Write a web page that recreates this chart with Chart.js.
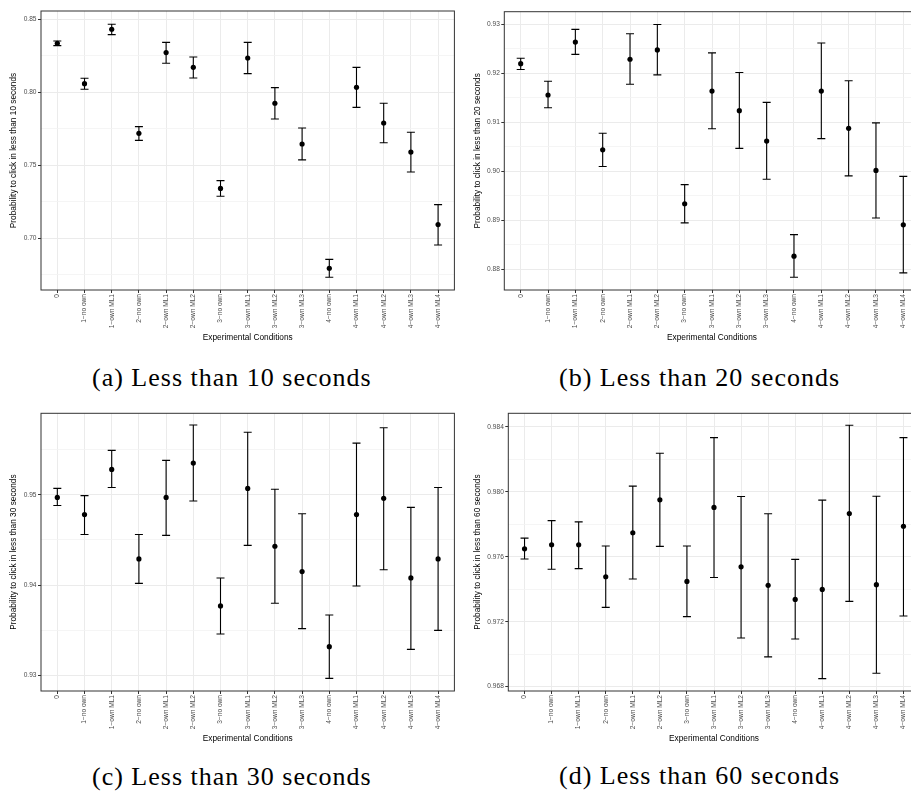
<!DOCTYPE html>
<html>
<head>
<meta charset="utf-8">
<script src="https://cdn.jsdelivr.net/npm/chart.js@4.4.1/dist/chart.umd.min.js"></script>
<style>
  html, body { margin: 0; padding: 0; background: #fff; overflow: hidden; width: 911px; height: 791px; }
  .panel { position: absolute; }
  .cap { position: absolute; font-family: "Liberation Serif", "DejaVu Serif", serif; font-size: 26px; line-height: 26px; letter-spacing: 1px; color: #000; white-space: nowrap; }
</style>
</head>
<body>
<div class="panel" style="left:0px;top:0px;width:457px;height:345px"><canvas id="chartA"></canvas></div>
<div class="panel" style="left:457px;top:0px;width:466px;height:345px"><canvas id="chartB"></canvas></div>
<div class="panel" style="left:0px;top:402px;width:457px;height:344px"><canvas id="chartC"></canvas></div>
<div class="panel" style="left:457px;top:402px;width:466px;height:344px"><canvas id="chartD"></canvas></div>
<div class="cap" style="left:92px;top:365px">(a) Less than 10 seconds</div>
<div class="cap" style="left:559px;top:365px">(b) Less than 20 seconds</div>
<div class="cap" style="left:92px;top:764px">(c) Less than 30 seconds</div>
<div class="cap" style="left:559px;top:763px">(d) Less than 60 seconds</div>
<script>
const categories = ['0', '1−no own', '1−own ML1', '2−no own', '2−own ML1', '2−own ML2', '3−no own',
  '3−own ML1', '3−own ML2', '3−own ML3', '4−no own', '4−own ML1', '4−own ML2', '4−own ML3', '4−own ML4'];

// (a) less than 10 seconds
const mean10 = [0.8336, 0.8059, 0.8432, 0.7719, 0.8272, 0.8171, 0.7342, 0.8235, 0.7925, 0.7646, 0.6795, 0.8034, 0.7790, 0.7591, 0.7094];
const low10  = [0.8320, 0.8021, 0.8395, 0.7671, 0.8199, 0.8098, 0.7288, 0.8128, 0.7817, 0.7537, 0.6733, 0.7897, 0.7655, 0.7454, 0.6954];
const high10 = [0.8352, 0.8096, 0.8466, 0.7765, 0.8342, 0.8242, 0.7395, 0.8342, 0.8032, 0.7756, 0.6856, 0.8171, 0.7925, 0.7726, 0.7231];
const ticks10 = ['0.70', '0.75', '0.80', '0.85'];

// (b) less than 20 seconds
const mean20 = [0.9220, 0.9156, 0.9264, 0.9044, 0.9229, 0.9248, 0.8934, 0.9164, 0.9124, 0.9062, 0.8827, 0.9164, 0.9088, 0.9002, 0.8891];
const low20  = [0.9208, 0.9130, 0.9239, 0.9010, 0.9178, 0.9197, 0.8895, 0.9087, 0.9047, 0.8984, 0.8784, 0.9067, 0.8991, 0.8905, 0.8793];
const high20 = [0.9231, 0.9184, 0.9290, 0.9078, 0.9281, 0.9300, 0.8973, 0.9242, 0.9202, 0.9141, 0.8871, 0.9262, 0.9185, 0.9099, 0.8990];
const ticks20 = ['0.88', '0.89', '0.90', '0.91', '0.92', '0.93'];

// (c) less than 30 seconds
const mean30 = [0.9497, 0.9478, 0.9528, 0.9429, 0.9497, 0.9535, 0.9377, 0.9507, 0.9443, 0.9415, 0.9332, 0.9478, 0.9496, 0.9408, 0.9429];
const low30  = [0.9488, 0.9456, 0.9508, 0.9402, 0.9455, 0.9493, 0.9346, 0.9444, 0.9380, 0.9352, 0.9297, 0.9399, 0.9417, 0.9329, 0.9350];
const high30 = [0.9507, 0.9499, 0.9549, 0.9456, 0.9538, 0.9577, 0.9408, 0.9569, 0.9506, 0.9479, 0.9367, 0.9557, 0.9574, 0.9486, 0.9508];
const ticks30 = ['0.93', '0.94', '0.95'];

// (d) less than 60 seconds
const mean60 = [0.97649, 0.97674, 0.97674, 0.97477, 0.97748, 0.97951, 0.97448, 0.97904, 0.97538, 0.97424, 0.97337, 0.97399, 0.97866, 0.97428, 0.97788];
const low60  = [0.97586, 0.97523, 0.97527, 0.97288, 0.97463, 0.97664, 0.97231, 0.97472, 0.97100, 0.96983, 0.97093, 0.96849, 0.97325, 0.96882, 0.97235];
const high60 = [0.97715, 0.97823, 0.97815, 0.97666, 0.98035, 0.98238, 0.97666, 0.98334, 0.97971, 0.97865, 0.97584, 0.97949, 0.98410, 0.97973, 0.98334];
const ticks60 = ['0.968', '0.972', '0.976', '0.980', '0.984'];

const FONT = '"Liberation Sans", Arial, sans-serif';

// error bars with caps, drawn under the points
const errorBars = {
  id: 'errorBars',
  beforeDatasetsDraw(chart, args, opts) {
    const {ctx, scales: {x, y}} = chart;
    ctx.save();
    ctx.strokeStyle = '#000';
    ctx.lineWidth = 1.1;
    opts.low.forEach((l, i) => {
      const px = x.getPixelForValue(i);
      const y1 = y.getPixelForValue(l);
      const y2 = y.getPixelForValue(opts.high[i]);
      ctx.beginPath();
      ctx.moveTo(px, y1); ctx.lineTo(px, y2);
      ctx.moveTo(px - 4, y1); ctx.lineTo(px + 4, y1);
      ctx.moveTo(px - 4, y2); ctx.lineTo(px + 4, y2);
      ctx.stroke();
    });
    ctx.restore();
  }
};

// panel border like theme_bw
const panelBorder = {
  id: 'panelBorder',
  afterDraw(chart) {
    const {ctx, chartArea: a} = chart;
    ctx.save();
    ctx.strokeStyle = '#333';
    ctx.lineWidth = 1;
    ctx.strokeRect(a.left, a.top, a.right - a.left, a.bottom - a.top);
    ctx.restore();
  }
};

function makeChart(id, mean, low, high, tickLabels, yMin, yMax, lay, secs) {
  const major = tickLabels.map(parseFloat);
  const step = major[1] - major[0];
  const grid = [];
  major.forEach(v => { grid.push(v); grid.push(v + step / 2); });
  grid.push(major[0] - step / 2);
  const gridVals = grid.filter(v => v >= yMin && v <= yMax).sort((a, b) => a - b);
  const isMajor = v => major.some(m => Math.abs(m - v) < step / 100);

  return new Chart(document.getElementById(id), {
    type: 'scatter',
    data: {
      datasets: [{
        data: mean.map((v, i) => ({x: i, y: v})),
        backgroundColor: '#000',
        borderWidth: 0,
        pointRadius: 2.6,
        pointHoverRadius: 2.6
      }]
    },
    plugins: [errorBars, panelBorder],
    options: {
      responsive: true,
      maintainAspectRatio: false,
      animation: false,
      events: [],
      layout: { padding: { top: lay.top, right: lay.right, left: 0, bottom: 0 } },
      plugins: {
        legend: { display: false },
        tooltip: { enabled: false },
        errorBars: { low: low, high: high }
      },
      scales: {
        x: {
          type: 'linear',
          min: -0.6,
          max: 14.6,
          afterBuildTicks: s => { s.ticks = categories.map((c, i) => ({value: i})); },
          afterFit: s => { s.height = 55; },
          border: { display: false },
          grid: { color: '#ebebeb', lineWidth: 1, tickColor: '#333', tickLength: 3 },
          ticks: {
            autoSkip: false,
            minRotation: 90,
            maxRotation: 90,
            padding: 1,
            color: '#4d4d4d',
            font: { family: FONT, size: 6.6 },
            callback: v => categories[v]
          },
          title: {
            display: true,
            text: 'Experimental Conditions',
            color: '#000',
            padding: { top: 0, bottom: 2 },
            font: { family: FONT, size: 8.3 }
          }
        },
        y: {
          min: yMin,
          max: yMax,
          afterBuildTicks: s => { s.ticks = gridVals.map(v => ({value: v})); },
          afterFit: s => { s.width = lay.yW; },
          border: { display: false },
          grid: {
            color: c => isMajor(c.tick.value) ? '#ebebeb' : '#f3f3f3',
            lineWidth: c => isMajor(c.tick.value) ? 1 : 0.8,
            tickColor: c => isMajor(c.tick.value) ? '#333' : 'rgba(0,0,0,0)',
            tickLength: 3
          },
          ticks: {
            padding: 1.5,
            color: '#4d4d4d',
            font: { family: FONT, size: 6.6 },
            callback: v => {
              const k = major.findIndex(m => Math.abs(m - v) < step / 100);
              return k >= 0 ? tickLabels[k] : '';
            }
          },
          title: {
            display: true,
            text: 'Probability to click in less than ' + secs + ' seconds',
            color: '#000',
            padding: { top: lay.tp, bottom: 0 },
            font: { family: FONT, size: 8.3 }
          }
        }
      }
    }
  });
}

makeChart('chartA', mean10, low10, high10, ticks10, 0.6646, 0.8557, {top: 11, right: 2, yW: 41, tp: 8.3}, 10);
makeChart('chartB', mean20, low20, high20, ticks20, 0.8758, 0.9326, {top: 11.7, right: 3.3, yW: 47.3, tp: 15.7}, 20);
makeChart('chartC', mean30, low30, high30, ticks30, 0.9283, 0.9590, {top: 11.3, right: 2, yW: 41, tp: 8.3}, '30');
makeChart('chartD', mean60, low60, high60, ticks60, 0.96773, 0.98484, {top: 11.3, right: 3.3, yW: 51.3, tp: 15.7}, '60');
</script>
</body>
</html>
